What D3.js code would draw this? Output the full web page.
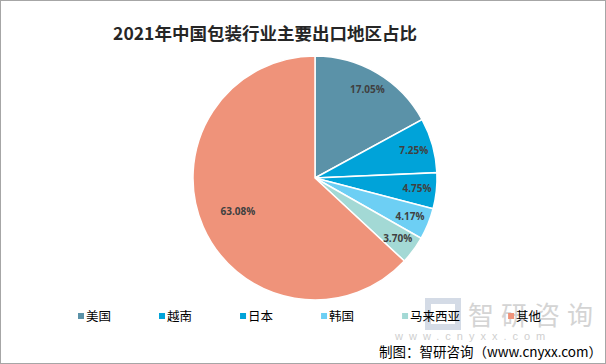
<!DOCTYPE html>
<html>
<head>
<meta charset="utf-8">
<script src="https://cdn.jsdelivr.net/npm/d3@7"></script>
<style>
  body { margin: 0; background: #fff; }
  svg { display: block; }
</style>
</head>
<body>
<svg id="chart" width="606" height="364"></svg>
<script>
// data
var regions = ["美国", "越南", "日本", "韩国", "马来西亚", "其他"];
var shares = [17.05, 7.25, 4.75, 4.17, 3.70, 63.08];
var colors = ["#5b92a8", "#00a3d9", "#00a3d9", "#6dcff4", "#a3d9d5", "#ef937a"];
var title = "2021年中国包装行业主要出口地区占比";
var source = "制图：智研咨询（www.cnyxx.com）";

var width = 606, height = 364;
var cx = 315, cy = 178, radius = 122;
var cjk = "'Noto Sans CJK SC', 'Noto Sans', sans-serif";

var svg = d3.select("#chart");

svg.append("rect")
    .attr("x", 0.5).attr("y", 0.5)
    .attr("width", width - 1).attr("height", height - 1)
    .attr("fill", "#fff")
    .attr("stroke", "#a6a6a6");

// watermark
var wm = svg.append("g").attr("fill", "#d4d4d4");
wm.append("rect").attr("x", 428).attr("y", 301).attr("width", 30).attr("height", 26)
    .attr("fill", "none").attr("stroke", "#d4dbe6").attr("stroke-width", 6);
wm.append("text")
    .attr("x", 468).attr("y", 325)
    .attr("font-family", cjk)
    .attr("font-size", 26)
    .attr("letter-spacing", 7)
    .text("智研咨询");
wm.append("text")
    .attr("x", 395).attr("y", 340)
    .attr("font-family", "Arial, sans-serif")
    .attr("font-size", 11)
    .attr("letter-spacing", 6)
    .attr("fill", "#cfcfcf")
    .text("www.cnyxx.com");

// title
svg.append("text")
    .attr("x", 265).attr("y", 40)
    .attr("text-anchor", "middle")
    .attr("font-family", cjk)
    .attr("font-size", 17.5)
    .attr("font-weight", "bold")
    .attr("fill", "#262626")
    .text(title);

var pie = d3.pie().sort(null).value(function(d){ return d; });
var arcs = pie(shares);

var arc = d3.arc().innerRadius(0).outerRadius(radius);

var g = svg.append("g").attr("transform", "translate(" + cx + "," + cy + ")");

g.selectAll("path")
    .data(arcs)
    .enter()
    .append("path")
        .attr("d", arc)
        .attr("fill", function(d, i){ return colors[i]; })
        .attr("stroke", "#fff")
        .attr("stroke-width", 1.5);

g.selectAll("text.lbl")
    .data(arcs)
    .enter()
    .append("text")
        .attr("class", "lbl")
        .attr("transform", function(d){
            var r = d.value > 50 ? radius * 0.69 : radius * 0.84;
            var a = (d.startAngle + d.endAngle) / 2;
            return "translate(" + (Math.sin(a) * r) + "," + (-Math.cos(a) * r) + ")";
        })
        .attr("text-anchor", "middle")
        .attr("dy", "0.35em")
        .attr("font-family", "'Open Sans', 'Noto Sans', sans-serif")
        .attr("font-size", 10)
        .attr("font-weight", "bold")
        .attr("fill", "#404040")
        .text(function(d){ return d.value.toFixed(2) + "%"; });

// legend, flowing left to right
var legend = svg.append("g");
var lx = 78;
regions.forEach(function(name, i){
    var item = legend.append("g");
    item.append("rect")
        .attr("x", lx).attr("y", 313)
        .attr("width", 6).attr("height", 6)
        .attr("fill", colors[i]);
    var t = item.append("text")
        .attr("x", lx + 8).attr("y", 321)
        .attr("font-family", cjk)
        .attr("font-size", 12.5)
        .attr("fill", "#000")
        .text(name);
    lx += 8 + t.node().getComputedTextLength() + 48;
});

// source
svg.append("text")
    .attr("x", 602).attr("y", 357)
    .attr("text-anchor", "end")
    .attr("font-family", cjk)
    .attr("font-size", 13.5)
    .attr("fill", "#000")
    .text(source);
</script>
</body>
</html>
